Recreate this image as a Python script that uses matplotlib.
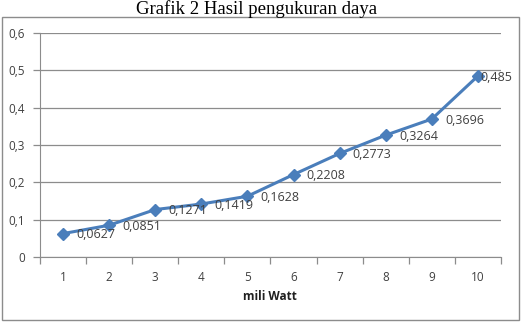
import matplotlib
matplotlib.use("Agg")
import matplotlib.pyplot as plt
from matplotlib.patches import Rectangle

categories = [1, 2, 3, 4, 5, 6, 7, 8, 9, 10]
values = [0.0627, 0.0851, 0.1271, 0.1419, 0.1628, 0.2208, 0.2773, 0.3264, 0.3696, 0.485]
labels = ["0,0627", "0,0851", "0,1271", "0,1419", "0,1628", "0,2208", "0,2773", "0,3264", "0,3696", "0,485"]
yticks = [0, 0.1, 0.2, 0.3, 0.4, 0.5, 0.6]
yticklabels = ["0", "0,1", "0,2", "0,3", "0,4", "0,5", "0,6"]

W, H = 525, 324
fig = plt.figure(figsize=(W/100, H/100), dpi=100)
fig.patch.set_facecolor("white")

# chart border
fig.patches.append(Rectangle((2/W, 1 - 320/H), 517/W, 303/H, transform=fig.transFigure,
                             fill=False, edgecolor="#8c8c8c", linewidth=1.0))

fig.text(257/W, 1 - 9/H, "Grafik 2 Hasil pengukuran daya", ha="center", va="center",
         family="Liberation Serif", fontsize=13.5, color="black")

x0, x1 = 40, 501
y0, y1 = 33, 257
ax = fig.add_axes([x0/W, 1 - y1/H, (x1 - x0)/W, (y1 - y0)/H])
ax.set_xlim(0.5, 10.5)
ax.set_ylim(0, 0.6)

gray = "#8c8c8c"
ax.set_yticks(yticks)
ax.set_yticklabels(yticklabels)
ax.yaxis.grid(True, color=gray, linewidth=0.9)
ax.set_axisbelow(True)
ax.set_xticks(categories)
ax.set_xticklabels([str(c) for c in categories])
ax.tick_params(axis="x", length=0, pad=10, labelsize=8.5, labelcolor="#404040")
ax.set_xticks([c + 0.5 for c in [0] + categories], minor=True)
ax.tick_params(axis="x", which="minor", length=5, color=gray, width=0.9, direction="out")
ax.tick_params(axis="y", length=5, color=gray, width=0.9, pad=6, labelsize=8.5, labelcolor="#404040")
for s in ["top", "right"]:
    ax.spines[s].set_visible(False)
ax.spines["left"].set_color(gray)
ax.spines["bottom"].set_color(gray)

for t in ax.get_xticklabels() + ax.get_yticklabels():
    t.set_family("Open Sans")

ax.plot(categories, values, color="#4A7EBB", linewidth=2.2, marker="D", markersize=6.5,
        markerfacecolor="#4A7EBB", markeredgecolor="#4A7EBB", clip_on=False)

n = len(categories)
for i, (c, v, l) in enumerate(zip(categories, values, labels)):
    dx = 1.5 if i == n - 1 else 9.5
    ax.annotate(l, (c, v), xytext=(dx, -1), textcoords="offset points", ha="left", va="center",
                fontsize=9, family="Open Sans", color="#404040", zorder=5)

fig.text(270/W, 1 - 297/H, "mili Watt", ha="center", va="center", fontsize=8.5,
         fontweight="bold", family="Open Sans", color="#202020")

fig.savefig("out.png", dpi=100)
